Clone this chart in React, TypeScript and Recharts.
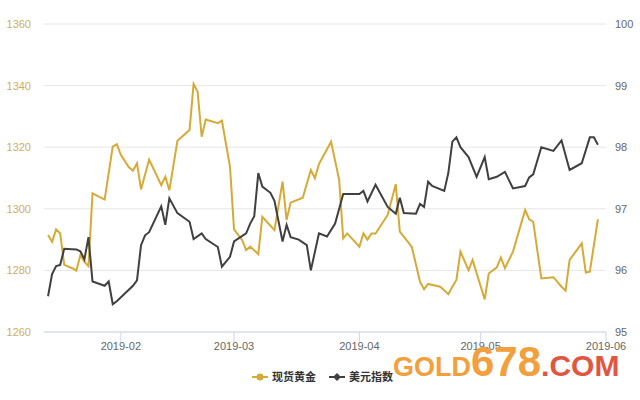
import React from "react";
import { LineChart, Line, XAxis, YAxis, CartesianGrid } from "recharts";

// 现货黄金 (left axis)
const goldDates = [
  "2019-01-14", "2019-01-15", "2019-01-16", "2019-01-17", "2019-01-18", "2019-01-20", "2019-01-21", "2019-01-22", "2019-01-23", "2019-01-24",
  "2019-01-25", "2019-01-28", "2019-01-30", "2019-01-31", "2019-02-01", "2019-02-03", "2019-02-04", "2019-02-05", "2019-02-06", "2019-02-08",
  "2019-02-11", "2019-02-12", "2019-02-13", "2019-02-15", "2019-02-18", "2019-02-19", "2019-02-20", "2019-02-21", "2019-02-22", "2019-02-25",
  "2019-02-26", "2019-02-28", "2019-03-01", "2019-03-03", "2019-03-04", "2019-03-05", "2019-03-07", "2019-03-08", "2019-03-11", "2019-03-13",
  "2019-03-14", "2019-03-15", "2019-03-18", "2019-03-20", "2019-03-21", "2019-03-22", "2019-03-25", "2019-03-27", "2019-03-28", "2019-03-29",
  "2019-04-01", "2019-04-02", "2019-04-03", "2019-04-04", "2019-04-05", "2019-04-08", "2019-04-10", "2019-04-11", "2019-04-13", "2019-04-14",
  "2019-04-16", "2019-04-17", "2019-04-18", "2019-04-21", "2019-04-23", "2019-04-24", "2019-04-25", "2019-04-26", "2019-04-28", "2019-04-29",
  "2019-05-02", "2019-05-03", "2019-05-05", "2019-05-06", "2019-05-07", "2019-05-09", "2019-05-12", "2019-05-13", "2019-05-14", "2019-05-16",
  "2019-05-19", "2019-05-21", "2019-05-22", "2019-05-23", "2019-05-26", "2019-05-27", "2019-05-28", "2019-05-30",
];
const goldValues = [
  1291.5, 1289.3, 1293.3, 1292, 1281.8, 1280.7, 1279.9, 1285, 1282.8, 1281.4,
  1305, 1303, 1320.2, 1321, 1317.5, 1313.5, 1312.4, 1314.8, 1306.3, 1316,
  1307.7, 1310.4, 1306, 1322.1, 1325.6, 1340.5, 1338, 1323.4, 1329, 1327.8,
  1328.6, 1313.7, 1293.3, 1289.9, 1286.6, 1287.7, 1285.3, 1297.4, 1293.1, 1308.8,
  1296.4, 1302, 1303.6, 1312.6, 1309.9, 1314.5, 1321.8, 1309.4, 1290.4, 1292,
  1287.7, 1292, 1290, 1292, 1292, 1298, 1308, 1292.6, 1289.3, 1287.5,
  1276.3, 1273.9, 1275.6, 1274.7, 1272.3, 1274.7, 1276.9, 1286.1, 1280.1, 1283.4,
  1270.6, 1279, 1281, 1284.2, 1280.7, 1286.1, 1299.6, 1296.6, 1295.8, 1277.4,
  1277.8, 1274.7, 1273.4, 1283.4, 1288.8, 1279.3, 1279.6, 1296.6,
];

// 美元指数 (right axis)
const usdDates = [
  "2019-01-14", "2019-01-15", "2019-01-16", "2019-01-17", "2019-01-18", "2019-01-21", "2019-01-22", "2019-01-23", "2019-01-24", "2019-01-25",
  "2019-01-28", "2019-01-29", "2019-01-30", "2019-01-31", "2019-02-04", "2019-02-05", "2019-02-06", "2019-02-07", "2019-02-08", "2019-02-11",
  "2019-02-12", "2019-02-13", "2019-02-15", "2019-02-18", "2019-02-19", "2019-02-21", "2019-02-22", "2019-02-25", "2019-02-26", "2019-02-28",
  "2019-03-01", "2019-03-04", "2019-03-05", "2019-03-06", "2019-03-07", "2019-03-08", "2019-03-10", "2019-03-11", "2019-03-13", "2019-03-14",
  "2019-03-15", "2019-03-17", "2019-03-19", "2019-03-20", "2019-03-22", "2019-03-24", "2019-03-26", "2019-03-28", "2019-04-01", "2019-04-02",
  "2019-04-03", "2019-04-05", "2019-04-08", "2019-04-10", "2019-04-11", "2019-04-12", "2019-04-15", "2019-04-16", "2019-04-17", "2019-04-18",
  "2019-04-19", "2019-04-22", "2019-04-23", "2019-04-24", "2019-04-25", "2019-04-26", "2019-04-28", "2019-04-30", "2019-05-02", "2019-05-03",
  "2019-05-05", "2019-05-07", "2019-05-09", "2019-05-12", "2019-05-13", "2019-05-14", "2019-05-16", "2019-05-19", "2019-05-21", "2019-05-23",
  "2019-05-26", "2019-05-28", "2019-05-29", "2019-05-30",
];
const usdValues = [
  95.58, 95.94, 96.07, 96.09, 96.35, 96.34, 96.31, 96.18, 96.54, 95.82,
  95.75, 95.82, 95.45, 95.5, 95.75, 95.84, 96.41, 96.57, 96.62, 97.04,
  96.74, 97.17, 96.93, 96.79, 96.51, 96.6, 96.51, 96.38, 96.06, 96.22,
  96.47, 96.6, 96.76, 96.88, 97.58, 97.36, 97.26, 97.13, 96.47, 96.74,
  96.54, 96.5, 96.41, 96.0, 96.6, 96.55, 96.76, 97.24, 97.24, 97.29,
  97.12, 97.39, 97.03, 96.92, 97.18, 96.93, 96.92, 97.08, 97.03, 97.44,
  97.37, 97.29, 97.58, 98.09, 98.16, 98.0, 97.84, 97.52, 97.84, 97.48,
  97.52, 97.6, 97.33, 97.37, 97.51, 97.56, 98.0, 97.94, 98.11, 97.63,
  97.74, 98.16, 98.16, 98.04,
];

const monthLabels = ["2019-02", "2019-03", "2019-04", "2019-05", "2019-06"];
const goldTicks = [1260, 1280, 1300, 1320, 1340, 1360];
const usdTicks = [95, 96, 97, 98, 99, 100];

const GOLD = "#d6aa36";
const DARK = "#404040";

// day of year (Jan 1 = 0)
const dayOf = (s: string) => {
  const [y, m, d] = s.split("-").map(Number);
  return (Date.UTC(y, m - 1, d) - Date.UTC(y, 0, 1)) / 86400000;
};

const goldData = goldDates.map((d, i) => ({ t: dayOf(d), v: goldValues[i] }));
const usdData = usdDates.map((d, i) => ({ t: dayOf(d), v: usdValues[i] }));
const monthTicks = monthLabels.map((m) => dayOf(m + "-01"));

const fmtMonth = (t: number) => monthLabels[monthTicks.indexOf(t)] ?? "";

export default function App() {
  return (
    <div
      style={{
        position: "fixed",
        left: 0,
        top: 0,
        width: 640,
        height: 400,
        background: "#fff",
        fontFamily: "'Liberation Sans', 'Noto Sans CJK SC', sans-serif",
      }}
    >
      <LineChart width={640} height={400} margin={{ top: 24, right: 0, left: 0, bottom: 38 }}>
        <CartesianGrid yAxisId="gold" vertical={false} stroke="#e6e6e6" />
        <XAxis
          type="number"
          dataKey="t"
          domain={[12, 151]}
          ticks={monthTicks}
          tickFormatter={fmtMonth}
          height={30}
          axisLine={{ stroke: "#ccd6eb" }}
          tickLine={{ stroke: "#ccd6eb" }}
          tickSize={10}
          tickMargin={0}
          tick={{ fill: "#666666", stroke: "none", fontSize: 11 }}
        />
        <YAxis
          yAxisId="gold"
          orientation="left"
          width={44}
          domain={[1260, 1360]}
          ticks={goldTicks}
          axisLine={false}
          tickLine={false}
          tickSize={6}
          tickMargin={7}
          tick={{ fill: "#d1ad5b", stroke: "none", fontSize: 11 }}
        />
        <YAxis
          yAxisId="usd"
          orientation="right"
          width={34}
          domain={[95, 100]}
          ticks={usdTicks}
          axisLine={false}
          tickLine={false}
          tickSize={6}
          tickMargin={3}
          tick={{ fill: "#666666", stroke: "none", fontSize: 11, textAnchor: "start" }}
        />
        <Line
          yAxisId="gold"
          data={goldData}
          dataKey="v"
          name="现货黄金"
          type="linear"
          stroke={GOLD}
          strokeWidth={2}
          dot={false}
          isAnimationActive={false}
        />
        <Line
          yAxisId="usd"
          data={usdData}
          dataKey="v"
          name="美元指数"
          type="linear"
          stroke={DARK}
          strokeWidth={2}
          dot={false}
          isAnimationActive={false}
        />
      </LineChart>
      <svg width={640} height={400} style={{ position: "absolute", left: 0, top: 0, pointerEvents: "none" }}>
        {/* legend */}
        <line x1={252} x2={268} y1={377} y2={377} stroke={GOLD} strokeWidth={2} />
        <circle cx={260} cy={377} r={3.5} fill={GOLD} />
        <text x={272} y={381} fontSize={11} fontWeight="bold" fill="#333">现货黄金</text>
        <line x1={329} x2={345} y1={377} y2={377} stroke={DARK} strokeWidth={2} />
        <path d="M337 373 L341 377 L337 381 L333 377 Z" fill={DARK} />
        <text x={349} y={381} fontSize={11} fontWeight="bold" fill="#333">美元指数</text>
        {/* watermark */}
        <text x={393} y={376} fontWeight="bold" fontFamily="'Liberation Sans', sans-serif">
          <tspan fill="#f2a03d" fontSize={27}>GOLD</tspan>
          <tspan fill="#f2a03d" fontSize={42}>678</tspan>
          <tspan fill="#e2553f" fontSize={30}>.COM</tspan>
        </text>
      </svg>
    </div>
  );
}
